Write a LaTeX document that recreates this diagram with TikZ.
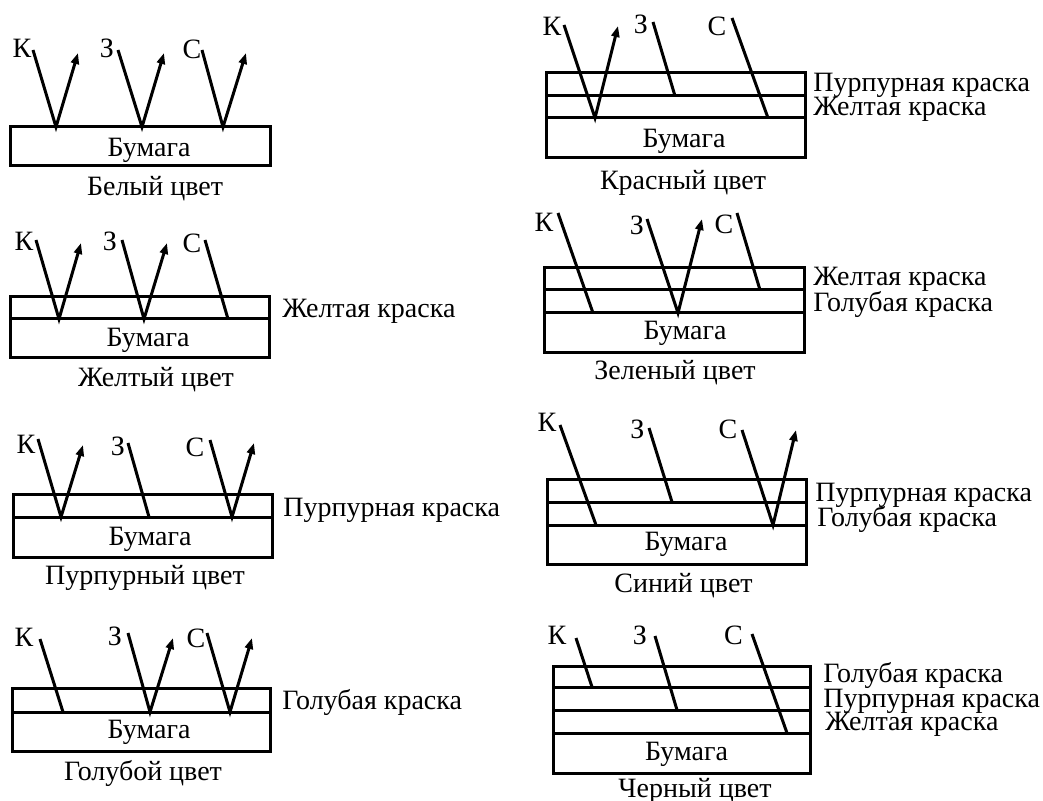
\documentclass[tikz,border=0pt]{standalone}
\usepackage{fontspec}
\setmainfont{Liberation Serif}
\usetikzlibrary{arrows.meta}
\begin{document}
\begin{tikzpicture}[x=0.5pt,y=-0.5pt,
  layer/.style={line width=1.5pt},
  ray/.style={line width=1.5pt},
  refl/.style={ray,-{Triangle[length=5.5pt,width=4pt]}},
  txt/.style={inner sep=0pt,text height=9.2pt,text depth=0pt,font=\fontsize{14}{16}\selectfont},
  side/.style={txt,anchor=west}]
\useasboundingbox[fill=white] (0,0) rectangle (1043,801);

% ---------- Белый цвет ----------
\draw[layer] (10,127) rectangle (270,166);
\node[txt] (b1) at (149,147) {Бумага};
\node[txt] (c1) at (155,186) {Белый цвет};
\node[txt] (k1) at (22,48.5) {К};
\node[txt] (z1) at (107,48) {З};
\node[txt] (s1) at (192,49) {С};
\coordinate (k1a) at (33,50);  \coordinate (k1b) at (56,127);  \coordinate (k1c) at (78,53);
\coordinate (z1a) at (118,50); \coordinate (z1b) at (142,127); \coordinate (z1c) at (164,53);
\coordinate (s1a) at (202,50); \coordinate (s1b) at (223,127); \coordinate (s1c) at (246,53);
\draw[refl] (k1a) -- (k1b) -- (k1c);
\draw[refl] (z1a) -- (z1b) -- (z1c);
\draw[refl] (s1a) -- (s1b) -- (s1c);

% ---------- Желтый цвет ----------
\draw[layer] (10,297) rectangle (269,358);
\draw[layer] (10,319) -- (269,319);
\node[txt] (b2) at (148,337) {Бумага};
\node[txt] (c2) at (156,377) {Желтый цвет};
\node[side] (l2a) at (282,308.5) {Желтая краска};
\node[txt] (k2) at (24,241) {К};
\node[txt] (z2) at (110,241) {З};
\node[txt] (s2) at (192,243.5) {С};
\coordinate (k2a) at (36,240);  \coordinate (k2b) at (59,319);  \coordinate (k2c) at (81,243);
\coordinate (z2a) at (122,240); \coordinate (z2b) at (144,319); \coordinate (z2c) at (167,243);
\coordinate (s2a) at (205,240); \coordinate (s2b) at (228,319);
\draw[refl] (k2a) -- (k2b) -- (k2c);
\draw[refl] (z2a) -- (z2b) -- (z2c);
\draw[ray] (s2a) -- (s2b);

% ---------- Пурпурный цвет ----------
\draw[layer] (13,495) rectangle (272,557);
\draw[layer] (13,517) -- (272,517);
\node[txt] (b3) at (150,536) {Бумага};
\node[txt] (c3) at (145,575) {Пурпурный цвет};
\node[side] (l3a) at (283,507.5) {Пурпурная краска};
\node[txt] (k3) at (26,444) {К};
\node[txt] (z3) at (118,446) {З};
\node[txt] (s3) at (195,447) {С};
\coordinate (k3a) at (38,439);  \coordinate (k3b) at (61,517);  \coordinate (k3c) at (83,445);
\coordinate (z3a) at (128,443); \coordinate (z3b) at (149,517);
\coordinate (s3a) at (210,440); \coordinate (s3b) at (232,517); \coordinate (s3c) at (254,443);
\draw[refl] (k3a) -- (k3b) -- (k3c);
\draw[ray] (z3a) -- (z3b);
\draw[refl] (s3a) -- (s3b) -- (s3c);

% ---------- Голубой цвет ----------
\draw[layer] (12,688) rectangle (270,751);
\draw[layer] (12,712) -- (270,712);
\node[txt] (b4) at (149,729.5) {Бумага};
\node[txt] (c4) at (143,771.5) {Голубой цвет};
\node[side] (l4a) at (282,700) {Голубая краска};
\node[txt] (k4) at (24,637) {К};
\node[txt] (z4) at (115,636) {З};
\node[txt] (s4) at (196,638) {С};
\coordinate (k4a) at (40,639);  \coordinate (k4b) at (63,712);
\coordinate (z4a) at (128,633); \coordinate (z4b) at (150,712); \coordinate (z4c) at (173,638);
\coordinate (s4a) at (207,633); \coordinate (s4b) at (230,712); \coordinate (s4c) at (252,638);
\draw[ray] (k4a) -- (k4b);
\draw[refl] (z4a) -- (z4b) -- (z4c);
\draw[refl] (s4a) -- (s4b) -- (s4c);

% ---------- Красный цвет ----------
\draw[layer] (546,73) rectangle (805,158);
\draw[layer] (546,96) -- (805,96);
\draw[layer] (546,118) -- (805,118);
\node[txt] (b5) at (684,138.5) {Бумага};
\node[txt] (c5) at (683,180.5) {Красный цвет};
\node[side] (l5a) at (813,82.5) {Пурпурная краска};
\node[side] (l5b) at (813,106.5) {Желтая краска};
\node[txt] (k5) at (552,26) {К};
\node[txt] (z5) at (641,24) {З};
\node[txt] (s5) at (717,26) {С};
\coordinate (k5a) at (564,25); \coordinate (k5b) at (595,118); \coordinate (k5c) at (618,26);
\coordinate (z5a) at (653,22); \coordinate (z5b) at (675,96);
\coordinate (s5a) at (732,18); \coordinate (s5b) at (768,118);
\draw[refl] (k5a) -- (k5b) -- (k5c);
\draw[ray] (z5a) -- (z5b);
\draw[ray] (s5a) -- (s5b);

% ---------- Зеленый цвет ----------
\draw[layer] (544,268) rectangle (804,353);
\draw[layer] (544,290) -- (804,290);
\draw[layer] (544,313) -- (804,313);
\node[txt] (b6) at (685,330) {Бумага};
\node[txt] (c6) at (675,370.5) {Зеленый цвет};
\node[side] (l6a) at (813,276.5) {Желтая краска};
\node[side] (l6b) at (813,302.5) {Голубая краска};
\node[txt] (k6) at (544,222) {К};
\node[txt] (z6) at (637,225) {З};
\node[txt] (s6) at (724,224) {С};
\coordinate (k6a) at (558,213); \coordinate (k6b) at (593,313);
\coordinate (z6a) at (647,219); \coordinate (z6b) at (678,313); \coordinate (z6c) at (702,219);
\coordinate (s6a) at (737,213); \coordinate (s6b) at (760,290);
\draw[ray] (k6a) -- (k6b);
\draw[refl] (z6a) -- (z6b) -- (z6c);
\draw[ray] (s6a) -- (s6b);

% ---------- Синий цвет ----------
\draw[layer] (547,480) rectangle (806,564);
\draw[layer] (547,502) -- (806,502);
\draw[layer] (547,525) -- (806,525);
\node[txt] (b7) at (686,541.5) {Бумага};
\node[txt] (c7) at (683.5,583.5) {Синий цвет};
\node[side] (l7a) at (815,492.5) {Пурпурная краска};
\node[side] (l7b) at (817,517.5) {Голубая краска};
\node[txt] (k7) at (547,422.5) {К};
\node[txt] (z7) at (637.5,429) {З};
\node[txt] (s7) at (728,429) {С};
\coordinate (k7a) at (560,425); \coordinate (k7b) at (596,525);
\coordinate (z7a) at (649,428); \coordinate (z7b) at (672,502);
\coordinate (s7a) at (742,430); \coordinate (s7b) at (773,525); \coordinate (s7c) at (796,430);
\draw[ray] (k7a) -- (k7b);
\draw[ray] (z7a) -- (z7b);
\draw[refl] (s7a) -- (s7b) -- (s7c);

% ---------- Черный цвет ----------
\draw[layer] (553,666) rectangle (810,773);
\draw[layer] (553,687) -- (810,687);
\draw[layer] (553,710) -- (810,710);
\draw[layer] (553,733) -- (810,733);
\node[txt] (b8) at (686.5,751.5) {Бумага};
\node[txt] (c8) at (695,788.5) {Черный цвет};
\node[side] (l8a) at (823,673.5) {Голубая краска};
\node[side] (l8b) at (823,698.5) {Пурпурная краска};
\node[side] (l8c) at (825,721.5) {Желтая краска};
\node[txt] (k8) at (557,635) {К};
\node[txt] (z8) at (640,635) {З};
\node[txt] (s8) at (733.5,635) {С};
\coordinate (k8a) at (576,638); \coordinate (k8b) at (592,687);
\coordinate (z8a) at (655,636); \coordinate (z8b) at (677,710);
\coordinate (s8a) at (752,634); \coordinate (s8b) at (787,733);
\draw[ray] (k8a) -- (k8b);
\draw[ray] (z8a) -- (z8b);
\draw[ray] (s8a) -- (s8b);
\end{tikzpicture}
\end{document}
